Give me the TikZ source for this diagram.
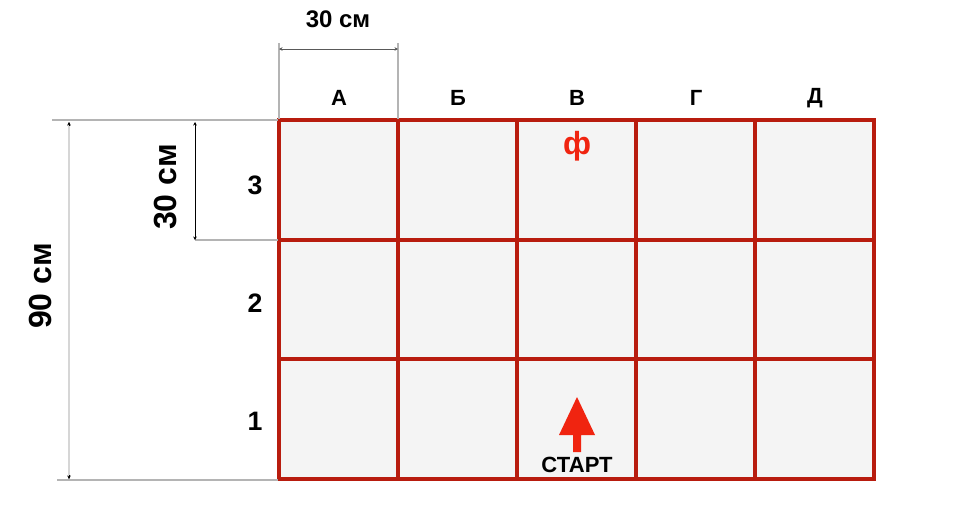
\documentclass[tikz,border=0pt]{standalone}
\usepackage{fontspec}
\setmainfont{Liberation Sans}
\usetikzlibrary{arrows.meta}
\definecolor{gridred}{HTML}{B81C0E}
\definecolor{cellfill}{HTML}{F4F4F4}
\definecolor{guide}{HTML}{B4B4B4}
\definecolor{lightguide}{HTML}{D6D6D6}
\definecolor{markred}{HTML}{F02410}
\tikzset{
  lbl/.style={font=\bfseries\fontsize{#1}{#1}\selectfont, inner sep=0pt, text=black},
  guideline/.style={draw=guide, line width=0.8pt},
  dimline/.style={line width=0.6pt, {Stealth[length=2.6pt,width=2.6pt]}-{Stealth[length=2.6pt,width=2.6pt]}},
}
\begin{document}
\begin{tikzpicture}[x=0.75pt,y=-0.75pt]
\useasboundingbox (0,0) rectangle (964,504);
% grid
\fill[cellfill] (279,120) rectangle (874,479);
\foreach \x in {279,398,517,636,755,874} \draw[gridred, line width=2.4pt] (\x,120) -- (\x,479);
\foreach \y in {120,240,359,479} \draw[gridred, line width=2.4pt] (277.2,\y) -- (875.8,\y);
% guide lines
\coordinate (tA) at (279,43);
\coordinate (tB) at (398,43);
\draw[guideline] (tA) -- (279,118.5);
\draw[guideline] (tB) -- (398,118.5);
\coordinate (hl0) at (52,120);
\draw[guideline] (hl0) -- (277.5,120);
\coordinate (hl1) at (195,240);
\draw[guideline] (hl1) -- (277.5,240);
\coordinate (hl2) at (57,480);
\draw[guideline] (hl2) -- (277.5,480);
% dimension arrows
\coordinate (d1a) at (279,49);
\coordinate (d1b) at (398,49);
\draw[dimline, draw=black!65] (d1a) -- (d1b);
\coordinate (d2a) at (195,122);
\coordinate (d2b) at (195,240);
\draw[dimline, draw=black] (d2a) -- (d2b);
\coordinate (d3a) at (69,122);
\coordinate (d3b) at (69,479);
\draw[line width=1.6pt, draw=lightguide] (d3a) -- (d3b);
\draw[dimline, draw=black, -{Stealth[length=2.6pt,width=2.6pt]}] (69,126) -- (d3a);
\draw[dimline, draw=black, -{Stealth[length=2.6pt,width=2.6pt]}] (69,475) -- (d3b);
% labels
\node[lbl=18] (top30) at (338,19) {30 см};
\node[lbl=24, rotate=90] (left30) at (166,187) {30 см};
\node[lbl=24, rotate=90] (left90) at (40,286) {90 см};
\foreach \n/\x/\t in {cA/339/А, cB/458/Б, cV/577/В, cG/696/Г, cD/815/Д}
  \node[lbl=16.5] (\n) at (\x,98) {\t};
\foreach \n/\y/\t in {r3/185/3, r2/303/2, r1/421/1}
  \node[lbl=20] (\n) at (255,\y) {\t};
\node[lbl=24, text=markred] (phi) at (577,146) {ф};
% start arrow
\fill[markred] (577,397) -- (595,435) -- (581,435) -- (581,452) -- (573,452) -- (573,435) -- (559,435) -- cycle;
\node[lbl=16.5] (start) at (577,465) {СТАРТ};
\end{tikzpicture}
\end{document}
